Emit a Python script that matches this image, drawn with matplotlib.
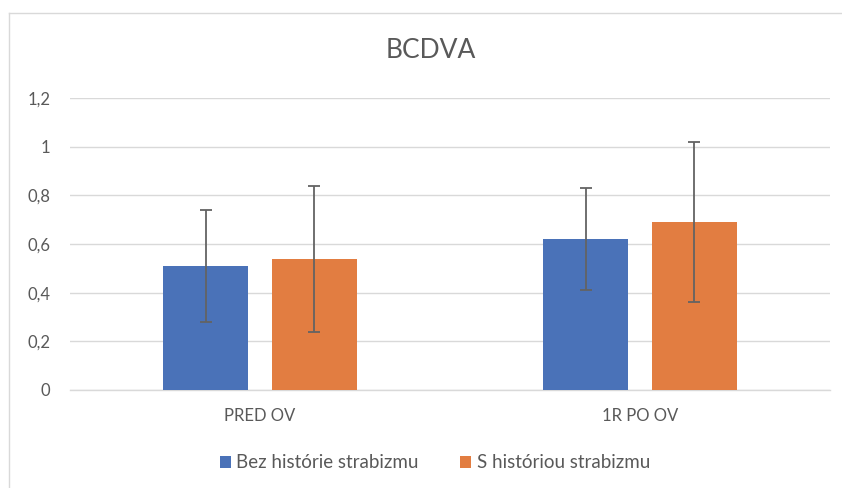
import numpy as np
import matplotlib.pyplot as plt
from matplotlib.lines import Line2D

plt.rcParams['font.family'] = ['Lato', 'DejaVu Sans']

# data
categories = ['PRED OV', '1R PO OV']
series_names = ['Bez histórie strabizmu', 'S históriou strabizmu']
bez_values = [0.51, 0.62]
bez_err = [0.23, 0.21]
s_values = [0.54, 0.69]
s_err = [0.30, 0.33]
yticks = [0, 0.2, 0.4, 0.6, 0.8, 1.0, 1.2]
ytick_labels = ['0', '0,2', '0,4', '0,6', '0,8', '1', '1,2']

text_col = '#595959'
grid_col = '#d9d9d9'

fig = plt.figure(figsize=(8.42, 4.88), dpi=100)
ax = fig.add_axes([0.083, 0.201, 0.903, 0.598])

x = np.arange(len(categories))
w = 0.224
off = 0.143
err_kw = dict(ecolor='#636363', elinewidth=1.3, capsize=4, capthick=1.3)
ax.bar(x - off, bez_values, w, yerr=bez_err, color='#4a72b8', label=series_names[0],
       error_kw=err_kw, zorder=3)
ax.bar(x + off, s_values, w, yerr=s_err, color='#e27d41', label=series_names[1],
       error_kw=err_kw, zorder=3)

ax.set_xlim(-0.5, 1.5)
ax.set_ylim(0, 1.2)
ax.set_yticks(yticks)
ax.set_yticklabels(ytick_labels)
ax.set_xticks(x)
ax.set_xticklabels(categories)
ax.tick_params(axis='both', length=0, labelsize=12, colors=text_col)
ax.tick_params(axis='y', pad=14)
ax.tick_params(axis='x', pad=13)
ax.grid(axis='y', color=grid_col, linewidth=1, zorder=0)
for s in ['top', 'right', 'left']:
    ax.spines[s].set_visible(False)
ax.spines['bottom'].set_color(grid_col)
ax.spines['bottom'].set_linewidth(1)

fig.text(0.512, 0.897, 'BCDVA', ha='center', va='center', fontsize=19, color=text_col)

ax.legend(loc='center', bbox_to_anchor=(0.48, -0.25), ncol=2, frameon=False,
          fontsize=13.5, labelcolor=text_col, handlelength=0.6, handleheight=0.6,
          handletextpad=0.3, columnspacing=2.2)

# chart border (left and top edges visible)
x0, y0 = 8.5 / 842, 1 - 12.5 / 488
fig.lines.append(Line2D([x0, x0], [0, y0], transform=fig.transFigure, color=grid_col, lw=1))
fig.lines.append(Line2D([x0, 1], [y0, y0], transform=fig.transFigure, color=grid_col, lw=1))

fig.savefig('out.png', dpi=100)
